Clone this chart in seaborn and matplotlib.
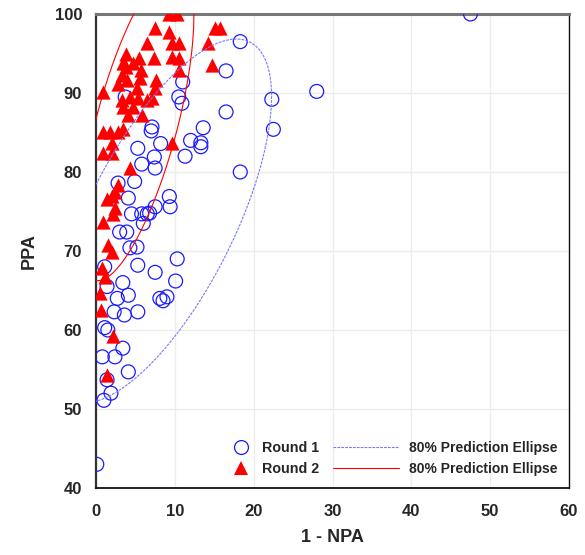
import numpy as np
import pandas as pd
import matplotlib
matplotlib.use("Agg")
import matplotlib.pyplot as plt
from matplotlib.lines import Line2D
import seaborn as sns

# Round 1 (1 - NPA, PPA)
r1_x = [47.5, 0.1, 18.3, 16.5, 22.3, 22.5, 28.0, 16.5, 18.3, 13.6, 13.3, 13.3, 12.0, 11.0, 10.5, 10.9,
        11.3, 7.1, 7.0, 8.2, 5.3, 7.4, 5.8, 7.5, 2.8, 4.9, 4.1, 9.3, 9.4, 7.5, 4.5, 5.8, 6.5, 6.8,
        6.0, 3.0, 3.9, 4.3, 5.2, 5.3, 7.5, 10.3, 10.1, 1.1, 3.4, 1.4, 2.7, 4.1, 8.1, 9.0, 8.5, 2.3,
        3.6, 5.3, 1.1, 1.5, 3.4, 0.8, 2.4, 4.1, 1.4, 1.9, 1.0, 3.7]
r1_y = [100.0, 43.0, 96.5, 92.8, 89.2, 85.4, 90.2, 87.6, 80.0, 85.6, 83.7, 83.2, 84.0, 91.4, 89.5, 88.7,
        82.0, 85.7, 85.2, 83.6, 83.0, 81.9, 81.0, 80.5, 78.6, 78.8, 76.7, 76.9, 75.6, 75.6, 74.7, 74.7,
        74.7, 74.8, 73.5, 72.4, 72.4, 70.4, 70.5, 68.2, 67.3, 69.0, 66.2, 68.0, 66.0, 65.5, 64.0, 64.4,
        64.0, 64.2, 63.7, 62.3, 61.9, 62.3, 60.3, 60.0, 57.7, 56.6, 56.6, 54.7, 53.7, 52.0, 51.1, 89.5]

# Round 2
r2_x = [9.2, 10.3, 7.5, 9.3, 15.1, 15.7, 6.5, 9.6, 10.5, 14.2, 3.8, 5.5, 7.4, 9.6, 10.5, 3.4, 4.7,
        3.8, 5.7, 10.5, 14.7, 3.3, 5.6, 2.8, 3.9, 7.6, 0.9, 5.2, 7.5, 3.3, 4.3, 5.3, 6.5, 7.1, 3.4,
        4.7, 4.1, 5.8, 0.9, 1.8, 2.8, 3.4, 2.0, 0.9, 2.0, 9.6, 4.3, 2.8, 2.4, 2.0, 1.4, 2.4, 2.2,
        0.9, 1.5, 2.0, 0.8, 1.1, 0.5, 0.6, 2.1, 1.4]
r2_y = [100.0, 100.0, 98.2, 97.7, 98.2, 98.2, 96.3, 96.3, 96.3, 96.3, 95.0, 94.4, 94.4, 94.6, 94.4,
        93.8, 93.8, 93.3, 92.9, 92.9, 93.5, 92.3, 91.9, 91.2, 91.6, 91.6, 90.1, 90.6, 90.6, 89.1, 89.5,
        89.4, 89.1, 89.4, 88.2, 88.2, 87.2, 87.2, 85.1, 85.1, 85.1, 85.4, 83.7, 82.4, 82.4, 83.7, 80.5,
        78.4, 77.5, 76.9, 76.6, 75.4, 74.7, 73.7, 70.8, 69.9, 67.8, 66.7, 64.7, 62.5, 59.3, 54.3]

labels = ["Round 1", "Round 2"]
ell_label = "80% Prediction Ellipse"
level = 0.8


def prediction_ellipse(x, y, p=0.8, npts=400):
    # prediction ellipse for a new observation (bivariate normal)
    x = np.asarray(x, float)
    y = np.asarray(y, float)
    n = len(x)
    m = n - 2
    fq = (m / 2.0) * ((1 - p) ** (-2.0 / m) - 1)  # F(2, n-2) quantile
    c2 = 2 * (n + 1) * (n - 1) / (n * (n - 2)) * fq
    S = np.cov(x, y)
    w, v = np.linalg.eigh(S)
    t = np.linspace(0, 2 * np.pi, npts)
    circ = np.vstack([np.cos(t), np.sin(t)])
    pts = v @ (np.sqrt(c2 * w)[:, None] * circ)
    return x.mean() + pts[0], y.mean() + pts[1]


sns.set_style("white")
plt.rcParams["font.family"] = ["Liberation Sans", "DejaVu Sans"]
plt.rcParams["font.weight"] = "bold"

fig = plt.figure(figsize=(5.85, 5.55), dpi=100)
ax = fig.add_axes([96 / 585, 1 - 488 / 555, 473 / 585, 474 / 555])

sns.scatterplot(x=r1_x, y=r1_y, marker="o", s=100, facecolors="none", edgecolor="#1a1aff",
                linewidth=0.9, ax=ax, zorder=3)
sns.scatterplot(x=r2_x, y=r2_y, marker="^", s=105, color="#ff0000", linewidth=0, ax=ax, zorder=4)

ex, ey = prediction_ellipse(r1_x, r1_y, level)
ax.plot(ex, ey, color="#7878ff", lw=0.8, ls=(0, (2.5, 1)), zorder=5)
ex, ey = prediction_ellipse(r2_x, r2_y, level)
ax.plot(ex, ey, color="#ff0000", lw=0.8, zorder=5)

ax.set_xlim(0, 60)
ax.set_ylim(40, 100)
ax.set_xticks(range(0, 61, 10))
ax.set_yticks(range(40, 101, 10))
ax.grid(True, color="#ececec", lw=1)
ax.set_axisbelow(True)
ax.tick_params(direction="out", length=6, width=1, color="#555555", labelsize=12)
ax.tick_params(axis="x", pad=5.5)
ax.tick_params(axis="y", pad=4)
for lab in ax.get_xticklabels() + ax.get_yticklabels():
    lab.set_fontweight("bold")
ax.set_xlabel("1 - NPA", fontsize=13, fontweight="bold", labelpad=7)
ax.set_ylabel("PPA", fontsize=13, fontweight="bold", labelpad=12)

ax.spines["top"].set_color("#777777")
ax.spines["top"].set_linewidth(2.2)
ax.spines["left"].set_color("#333333")
ax.spines["left"].set_linewidth(1.6)
ax.spines["bottom"].set_color("#111111")
ax.spines["bottom"].set_linewidth(1.3)
ax.spines["right"].set_color("#111111")
ax.spines["right"].set_linewidth(1.0)

# legend: markers and ellipse lines in two blocks
mk = [Line2D([], [], ls="none", marker="o", ms=10, mfc="none", mec="#1a1aff", mew=0.9),
      Line2D([], [], ls="none", marker="^", ms=10, mfc="#ff0000", mec="#ff0000", mew=0)]
leg1 = ax.legend(mk, labels, loc="lower left", bbox_to_anchor=(0.284, 0.026), frameon=False,
                 handlelength=1.5, handletextpad=0.7, labelspacing=0.5, borderpad=0,
                 borderaxespad=0, prop={"size": 10.3, "weight": "bold"})
ax.add_artist(leg1)
ln = [Line2D([], [], color="#7878ff", lw=0.8, ls=(0, (2.5, 1))),
      Line2D([], [], color="#ff0000", lw=0.8)]
ax.legend(ln, [ell_label, ell_label], loc="lower left", bbox_to_anchor=(0.5, 0.026), frameon=False,
          handlelength=4.8, handletextpad=0.7, labelspacing=0.5, borderpad=0,
          borderaxespad=0, prop={"size": 10, "weight": "bold"})

fig.savefig("out.png", dpi=100)
